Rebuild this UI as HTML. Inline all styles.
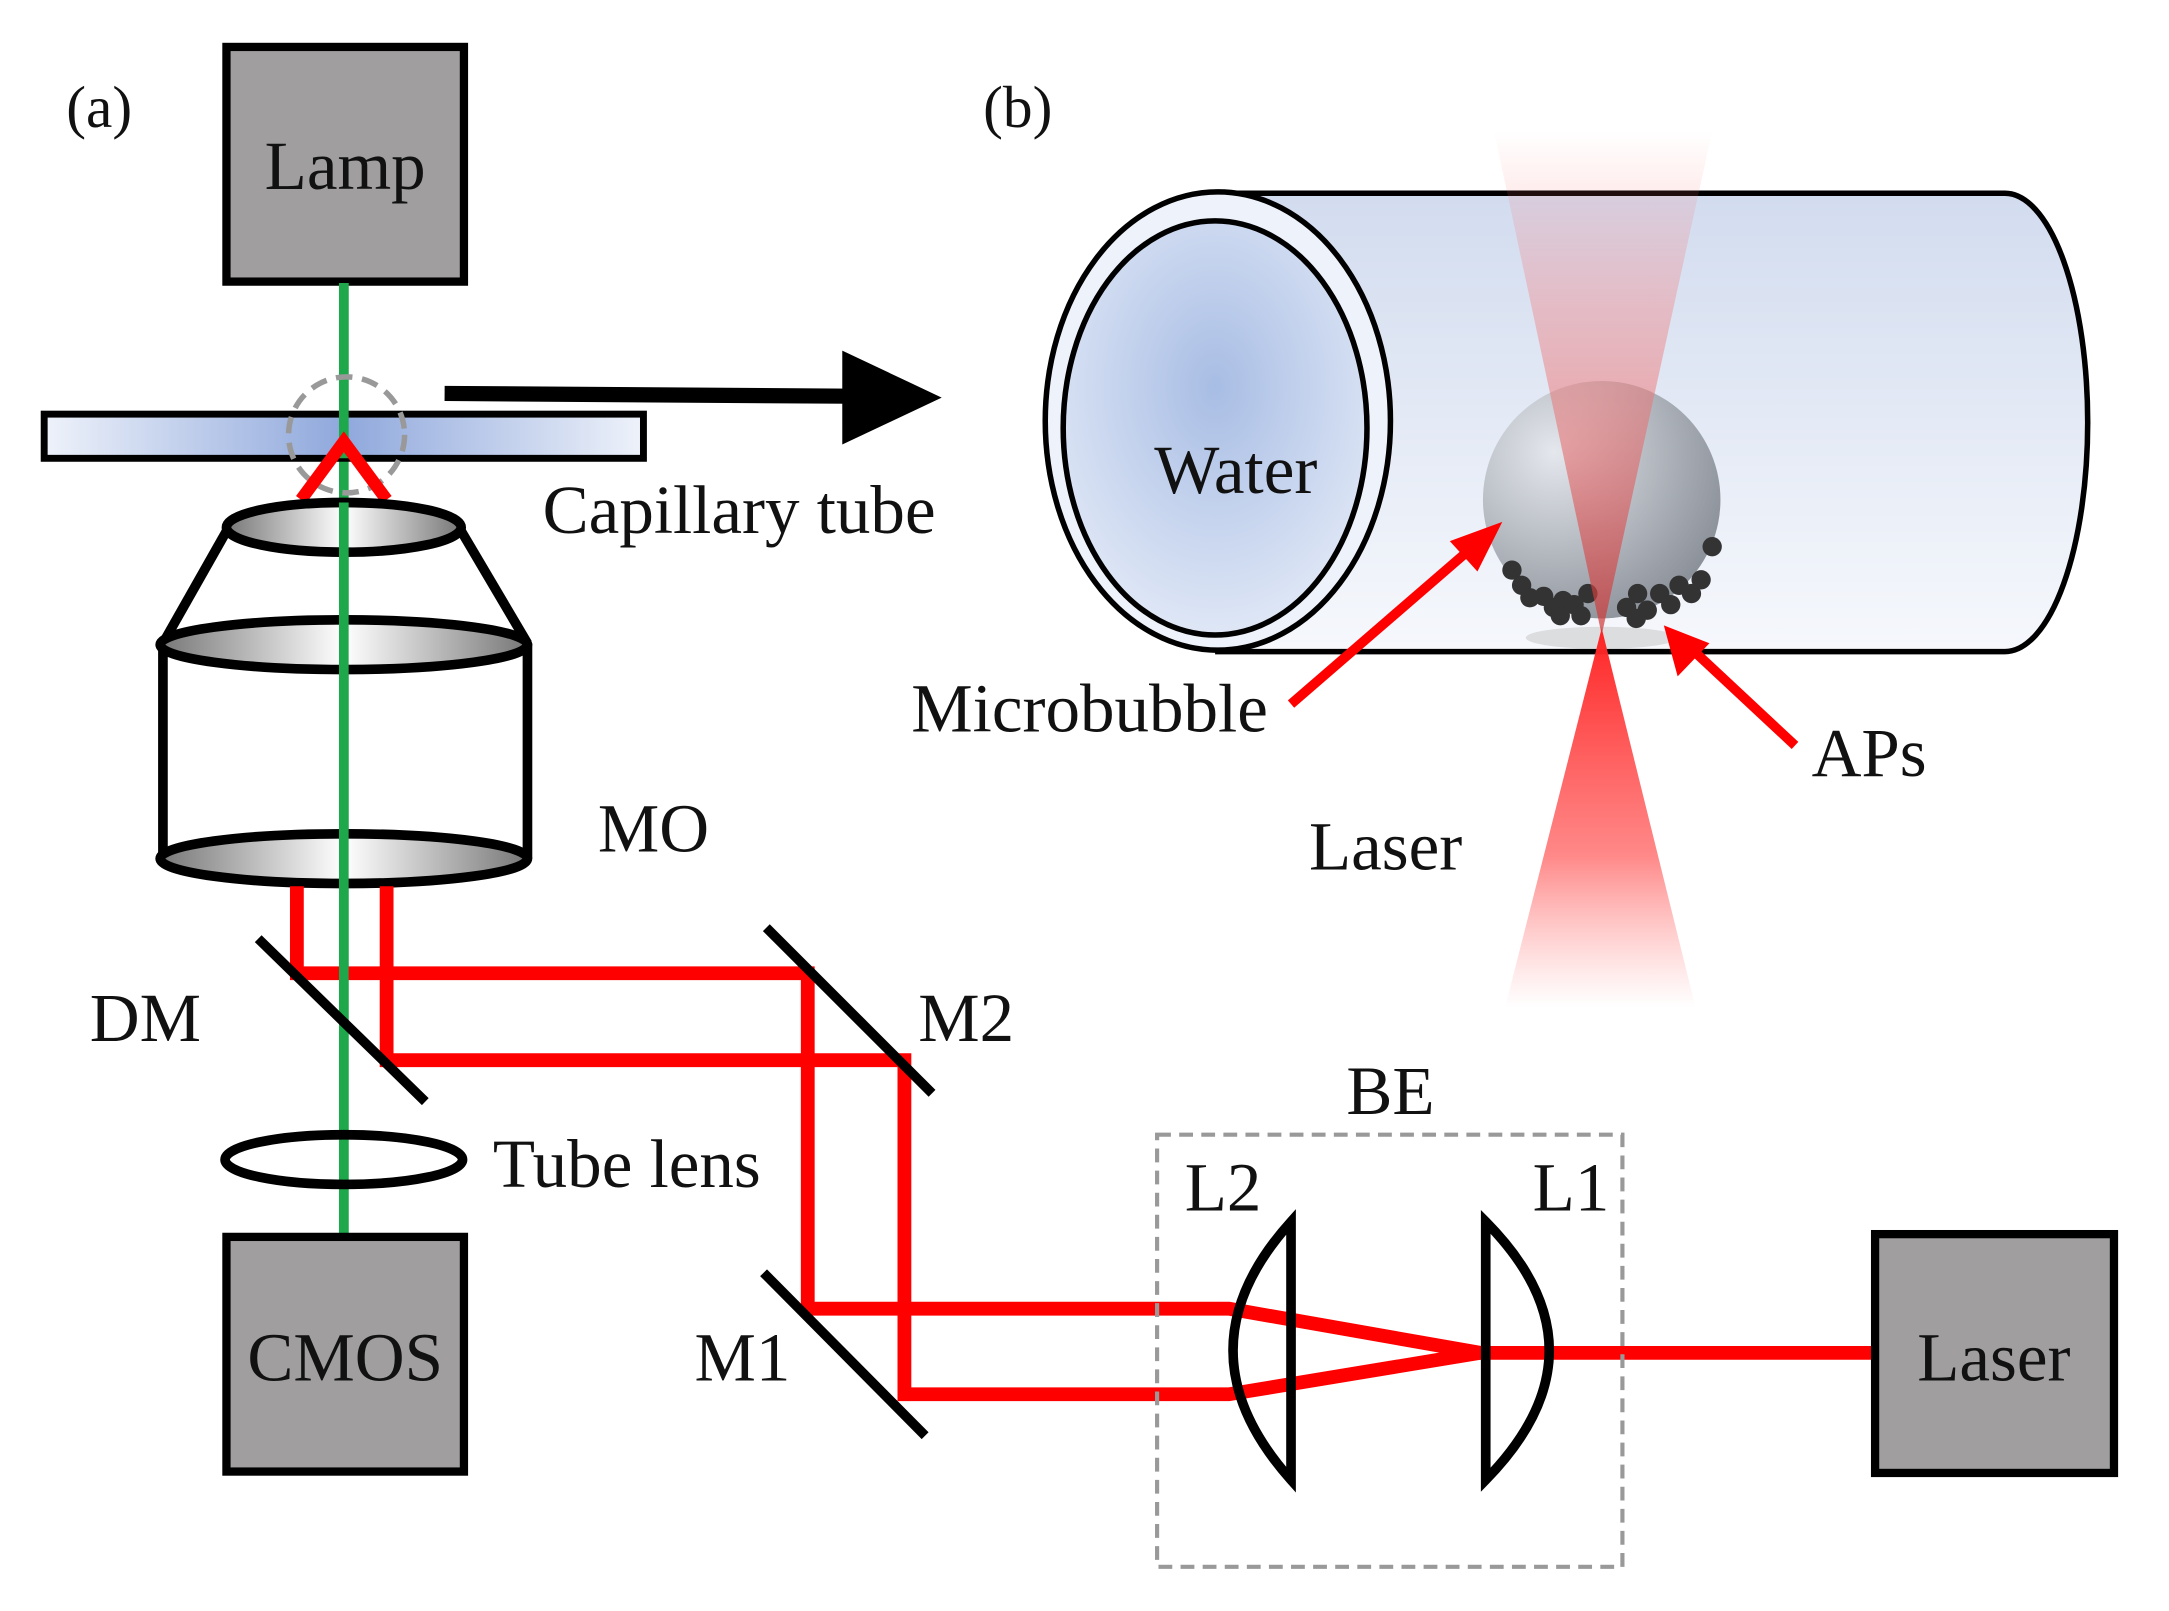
<!DOCTYPE html>
<html><head><meta charset="utf-8"><style>
html,body{margin:0;padding:0;background:#fff;width:2169px;height:1611px;overflow:hidden}
svg{display:block}
text{font-family:"Liberation Serif",serif;fill:#111}
</style></head><body>
<svg width="2169" height="1611" viewBox="0 0 1552 1153" preserveAspectRatio="none" xmlns="http://www.w3.org/2000/svg">
<defs>
<linearGradient id="plate" x1="0" x2="1" y1="0" y2="0">
<stop offset="0" stop-color="#eef2fa"/><stop offset="0.5" stop-color="#8fa8dc"/><stop offset="1" stop-color="#eef2fa"/></linearGradient>
<linearGradient id="lens" x1="0" x2="1"><stop offset="0" stop-color="#777"/><stop offset="0.5" stop-color="#fff"/><stop offset="1" stop-color="#777"/></linearGradient>
<linearGradient id="body" x1="0" x2="0" y1="0" y2="1"><stop offset="0" stop-color="#d2dcef"/><stop offset="1" stop-color="#f6f8fc"/></linearGradient>
<radialGradient id="water" cx="0.5" cy="0.4" r="0.6"><stop offset="0" stop-color="#a8bde4"/><stop offset="1" stop-color="#dfe7f6"/></radialGradient>
<radialGradient id="bub" cx="0.3" cy="0.3" r="0.8"><stop offset="0" stop-color="#e4e7ec"/><stop offset="1" stop-color="#7d838c"/></radialGradient>
<linearGradient id="cone1" x1="0" x2="0" y1="0" y2="1"><stop offset="0" stop-color="#f66" stop-opacity="0"/><stop offset="0.5" stop-color="#e77" stop-opacity="0.5"/><stop offset="1" stop-color="#c33" stop-opacity="0.7"/></linearGradient>
<linearGradient id="cone2" x1="0" x2="0" y1="0" y2="1"><stop offset="0" stop-color="#f22" stop-opacity="1"/><stop offset="0.6" stop-color="#f55" stop-opacity="0.7"/><stop offset="1" stop-color="#f88" stop-opacity="0"/></linearGradient>
</defs>
<g transform="scale(0.988)">
<!-- (a) -->
<text x="48" y="92" font-size="43">(a)</text>
<rect x="164" y="34" width="172" height="170" fill="#a09e9e" stroke="#000" stroke-width="6"/>
<text x="250" y="137" font-size="50" text-anchor="middle">Lamp</text>
<line x1="249" y1="205" x2="249" y2="895" stroke="#1ea84b" stroke-width="7"/>
<rect x="32" y="300" width="434" height="32" fill="url(#plate)" stroke="#000" stroke-width="5"/>
<line x1="249" y1="205" x2="249" y2="332" stroke="#1ea84b" stroke-width="7"/>
<circle cx="251" cy="315" r="42" fill="none" stroke="#999" stroke-width="4" stroke-dasharray="12 7"/>
<polyline points="218,362 249,320 280,362" fill="none" stroke="#f00" stroke-width="9"/>
<line x1="322" y1="285" x2="615" y2="287" stroke="#000" stroke-width="11"/>
<polygon points="610,254 682,288 610,322" fill="#000"/>
<text x="393" y="386" font-size="50">Capillary tube</text>

<!-- objective -->
<line x1="165" y1="383" x2="118" y2="466" stroke="#000" stroke-width="7"/>
<line x1="333" y1="383" x2="382" y2="466" stroke="#000" stroke-width="7"/>
<line x1="118" y1="466" x2="118" y2="622" stroke="#000" stroke-width="7"/>
<line x1="382" y1="466" x2="382" y2="622" stroke="#000" stroke-width="7"/>
<ellipse cx="249" cy="382" rx="85" ry="18" fill="url(#lens)" stroke="#000" stroke-width="7"/>
<ellipse cx="249" cy="467" rx="133" ry="18" fill="url(#lens)" stroke="#000" stroke-width="7"/>
<ellipse cx="249" cy="622" rx="133" ry="18" fill="url(#lens)" stroke="#000" stroke-width="7"/>
<line x1="249" y1="364" x2="249" y2="640" stroke="#1ea84b" stroke-width="7"/>
<text x="433" y="617" font-size="50">MO</text>

<!-- red beams -->
<g stroke="#f00" stroke-width="10" fill="none">
<polyline points="215,642 215,705 585,705 585,948 890,948 1072,980"/>
<polyline points="280,642 280,768 655,768 655,1010 890,1010 1072,980"/>
<line x1="1070" y1="980" x2="1357" y2="980"/>
</g>
<line x1="249" y1="640" x2="249" y2="895" stroke="#1ea84b" stroke-width="7"/>
<line x1="187" y1="680" x2="308" y2="798" stroke="#000" stroke-width="7"/>
<line x1="555" y1="672" x2="675" y2="792" stroke="#000" stroke-width="7"/>
<line x1="553" y1="922" x2="670" y2="1040" stroke="#000" stroke-width="7"/>
<text x="65" y="754" font-size="50">DM</text>
<text x="665" y="754" font-size="50">M2</text>
<text x="503" y="1000" font-size="50">M1</text>
<ellipse cx="249" cy="840" rx="86" ry="18" fill="none" stroke="#000" stroke-width="7"/>
<text x="357" y="860" font-size="50">Tube lens</text>
<rect x="164" y="896" width="172" height="170" fill="#a09e9e" stroke="#000" stroke-width="6"/>
<text x="250" y="1000" font-size="50" text-anchor="middle">CMOS</text>

<!-- BE -->
<rect x="838" y="822" width="337" height="313" fill="none" stroke="#999" stroke-width="3" stroke-dasharray="10 6"/>
<text x="1007" y="807" font-size="50" text-anchor="middle">BE</text>
<text x="858" y="877" font-size="50">L2</text>
<text x="1110" y="877" font-size="50">L1</text>
<path d="M935,885 Q851,978 935,1072 Z" fill="none" stroke="#000" stroke-width="7"/>
<path d="M1076,885 Q1168,978 1076,1072 Z" fill="none" stroke="#000" stroke-width="7"/>
<rect x="1358" y="894" width="173" height="173" fill="#a09e9e" stroke="#000" stroke-width="6"/>
<text x="1444" y="1000" font-size="50" text-anchor="middle">Laser</text>

<!-- (b) -->
<text x="712" y="92" font-size="43">(b)</text>
<path d="M882,140 L1452,140 A60,166 0 0 1 1452,472 L882,472 Z" fill="url(#body)" stroke="#000" stroke-width="4"/>
<ellipse cx="882" cy="305" rx="125" ry="166" fill="#eef2fa" stroke="#000" stroke-width="4"/>
<ellipse cx="880" cy="310" rx="110" ry="150" fill="url(#water)" stroke="#000" stroke-width="4"/>
<text x="895" y="357" font-size="50" text-anchor="middle">Water</text>
<circle cx="1160" cy="362" r="86" fill="url(#bub)" opacity="0.9"/>
<ellipse cx="1160" cy="462" rx="55" ry="8" fill="#ccc" opacity="0.6"/>
<g fill="#333">
<circle cx="1095" cy="413" r="7"/><circle cx="1102" cy="424" r="7"/><circle cx="1108" cy="433" r="7"/>
<circle cx="1118" cy="432" r="7"/><circle cx="1125" cy="440" r="7"/><circle cx="1132" cy="435" r="7"/><circle cx="1140" cy="438" r="7"/>
<circle cx="1130" cy="446" r="7"/><circle cx="1145" cy="446" r="7"/><circle cx="1150" cy="430" r="7"/>
<circle cx="1178" cy="440" r="7"/><circle cx="1186" cy="430" r="7"/><circle cx="1193" cy="442" r="7"/><circle cx="1202" cy="430" r="7"/>
<circle cx="1210" cy="438" r="7"/><circle cx="1216" cy="424" r="7"/><circle cx="1225" cy="430" r="7"/><circle cx="1232" cy="420" r="7"/>
<circle cx="1240" cy="396" r="7"/><circle cx="1185" cy="448" r="7"/>
</g>
<polygon points="1082,95 1240,95 1160,460" fill="url(#cone1)"/>
<polygon points="1160,455 1090,730 1228,730" fill="url(#cone2)"/>
<g stroke="#f00" stroke-width="7">
<line x1="935" y1="510" x2="1068" y2="395"/>
<line x1="1300" y1="540" x2="1225" y2="470"/>
</g>
<polygon points="1088,378 1050,392 1070,414" fill="#f00"/>
<polygon points="1205,453 1215,490 1238,466" fill="#f00"/>
<text x="660" y="530" font-size="50">Microbubble</text>
<text x="1312" y="562" font-size="50">APs</text>
<text x="948" y="630" font-size="50">Laser</text>
</g>
</svg>
</body></html>
